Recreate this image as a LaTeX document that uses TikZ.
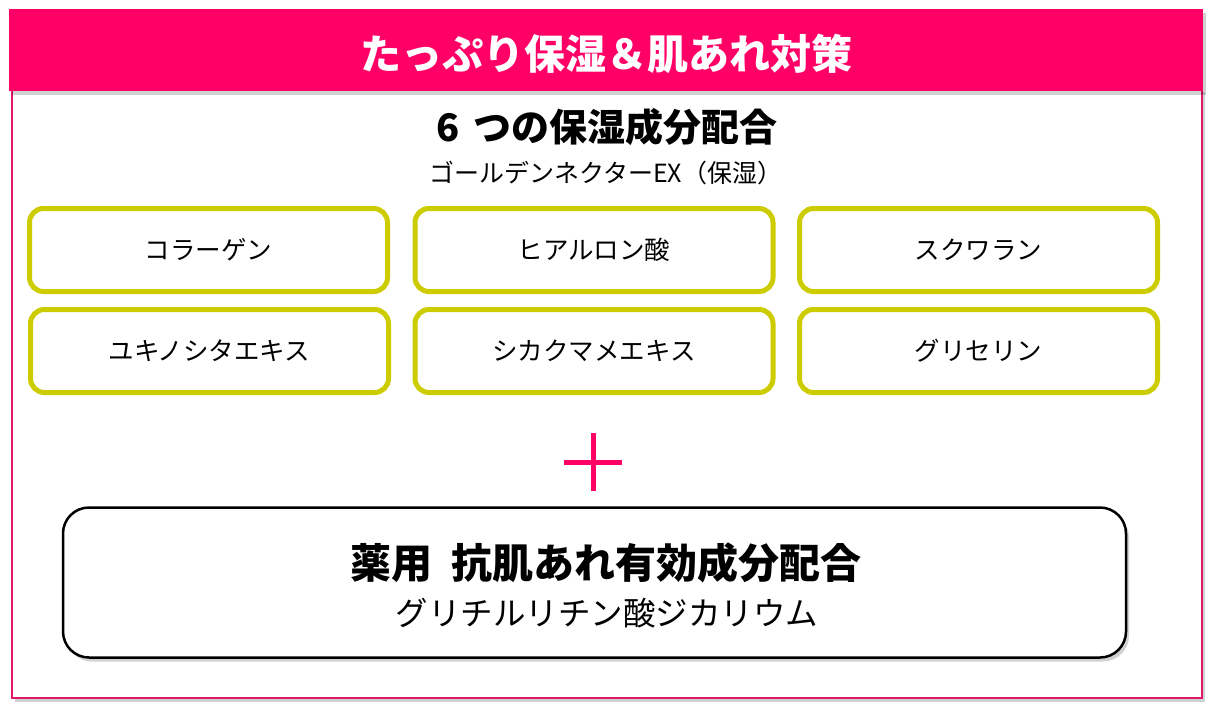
\documentclass[tikz,border=0pt]{standalone}
\usepackage{fontspec}
\setmainfont{Noto Sans CJK JP}
\usetikzlibrary{shadows,positioning}
\definecolor{hpink}{HTML}{FF0066}
\definecolor{fpink}{HTML}{E0186C}
\definecolor{olive}{HTML}{CCCC00}
\tikzset{
  ingr/.style={draw=olive, line width=5pt, rounded corners=14pt, fill=white, minimum width=358pt, minimum height=83pt, font=\fontsize{25.5}{28}\selectfont},
  shadowed/.style={drop shadow={shadow xshift=3pt, shadow yshift=-4pt, opacity=0.18, fill=black}},
}
\begin{document}
\begin{tikzpicture}[x=1pt,y=-1pt]
\useasboundingbox (0,0) rectangle (1214,716);
\fill[white] (0,0) rectangle (1214,716);
% outer frame
\draw[fpink, line width=2.2pt, fill=white, shadowed] (12,88) rectangle (1202,698);
% header
\node[fill=hpink, minimum width=1194pt, minimum height=82pt, inner sep=0pt, anchor=north west, shadowed] (header) at (9,9) {};
\node[text=white, font=\fontsize{41}{45}\selectfont\bfseries] (title) at (606,54) {たっぷり保湿＆肌あれ対策};
% subtitle
\node[font=\fontsize{38}{42}\selectfont\bfseries] (sub) at (607,127) {6\hspace{0.15em} つの保湿成分配合};
\node[font=\fontsize{25}{28}\selectfont] (gn) at (606,173) {ゴールデンネクターEX（保湿）};
% ingredient boxes
\node[ingr] (b1) at (208.5,250) {コラーゲン};
\node[ingr] (b2) at (594,250) {ヒアルロン酸};
\node[ingr] (b3) at (978.5,250) {スクワラン};
\node[ingr] (b4) at (209.5,351) {ユキノシタエキス};
\node[ingr] (b5) at (594,351) {シカクマメエキス};
\node[ingr] (b6) at (978.5,351) {グリセリン};
% plus
\begin{scope}[shadowed]
\fill[hpink] (564,459.5) rectangle (622,464.5);
\fill[hpink] (590.5,433) rectangle (595.5,491);
\end{scope}
% bottom box
\node[draw=black, line width=2.5pt, rounded corners=26pt, fill=white, minimum width=1063pt, minimum height=150pt, shadowed] (med) at (594.5,582.5) {};
\node[font=\fontsize{41}{45}\selectfont\bfseries] (medt) at (606,563) {薬用\hspace{0.45em}抗肌あれ有効成分配合};
\node[font=\fontsize{32.5}{36}\selectfont] (meds) at (607,613) {グリチルリチン酸ジカリウム};
\end{tikzpicture}
\end{document}
